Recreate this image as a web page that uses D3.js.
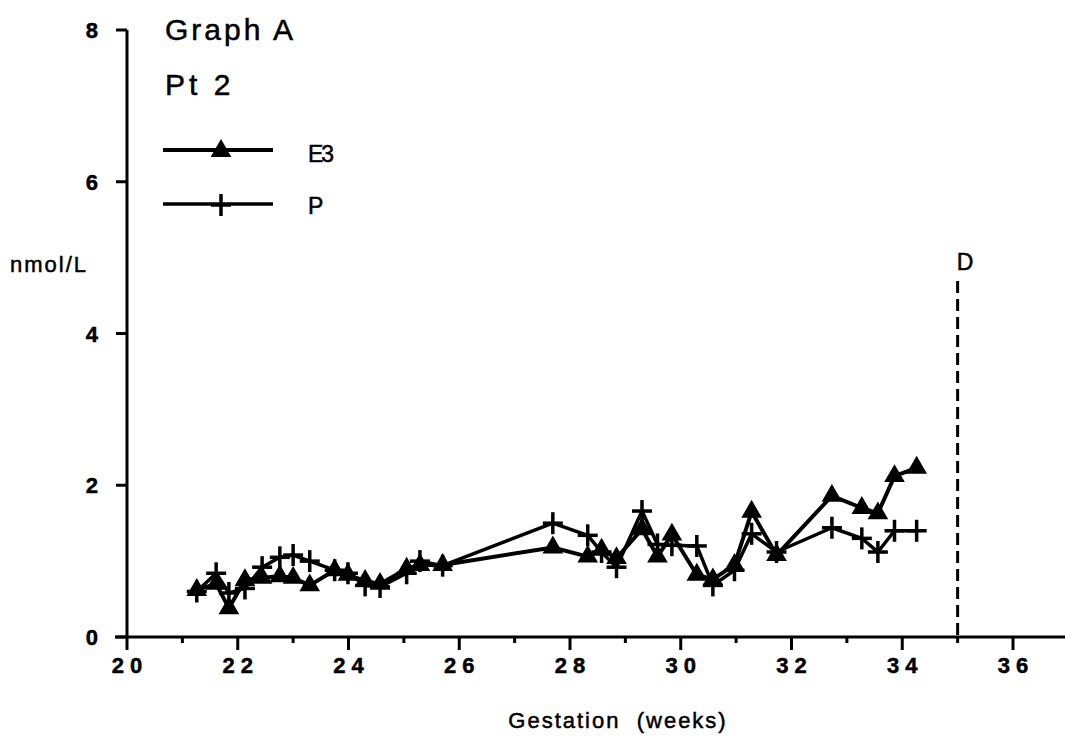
<!DOCTYPE html>
<html><head><meta charset="utf-8">
<script src="https://cdn.jsdelivr.net/npm/d3@7"></script>
<style>body{margin:0;background:#fff}svg{display:block}text{font-family:"Liberation Sans",Arial,sans-serif;fill:#000;stroke:#000;stroke-width:0.5px}</style>
</head><body><svg id="c" width="1065" height="741"></svg>
<script>
const weeks = [21.26,21.61,21.84,22.13,22.44,22.76,23.0,23.3,23.75,23.99,24.3,24.57,25.05,25.29,25.7,27.69,28.32,28.57,28.84,29.3,29.58,29.84,30.29,30.58,30.97,31.28,31.73,32.73,33.27,33.56,33.86,34.26];
const e3 = [0.62,0.70,0.38,0.75,0.78,0.80,0.78,0.68,0.88,0.82,0.74,0.70,0.90,0.95,0.95,1.18,1.06,1.15,1.04,1.42,1.06,1.35,0.82,0.76,0.95,1.65,1.08,1.86,1.70,1.63,2.12,2.23];
const p  = [0.60,0.84,0.58,0.64,0.92,1.05,1.08,1.00,0.88,0.84,0.68,0.66,0.84,1.00,0.94,1.50,1.34,1.12,0.92,1.66,1.22,1.21,1.20,0.68,0.88,1.36,1.12,1.44,1.30,1.12,1.40,1.40];
const xTicks = [20,22,24,26,28,30,32,34,36];
const xMinor = [21,23,25,27,29,31,33,35];
const yTicks = [0,2,4,6,8];
const deliveryWeek = 35;

const svg = d3.select("#c");
const x = d3.scaleLinear().domain([20,36]).range([127,1013]);
const y = d3.scaleLinear().domain([0,8]).range([637,30]);

// y axis
svg.append("line").attr("x1",x(20)).attr("x2",x(20)).attr("y1",y(8)).attr("y2",y(0)).attr("stroke","#000").attr("stroke-width",3);
yTicks.forEach(t=>{
  svg.append("line").attr("x1",x(20)-11).attr("x2",x(20)).attr("y1",y(t)).attr("y2",y(t)).attr("stroke","#000").attr("stroke-width",3);
  svg.append("text").attr("x",98).attr("y",y(t)+8).attr("text-anchor","end").attr("font-size",22).attr("font-weight","bold").text(t);
});
// x axis
svg.append("line").attr("x1",x(20)-12).attr("x2",1065).attr("y1",y(0)).attr("y2",y(0)).attr("stroke","#000").attr("stroke-width",3);
xTicks.forEach(t=>{
  svg.append("line").attr("x1",x(t)).attr("x2",x(t)).attr("y1",y(0)).attr("y2",y(0)+13).attr("stroke","#000").attr("stroke-width",3);
  svg.append("text").attr("x",x(t)+3).attr("y",673).attr("text-anchor","middle").attr("font-size",22).attr("font-weight","bold").attr("letter-spacing","6px").text(t);
});
xMinor.forEach(t=>{
  svg.append("line").attr("x1",x(t)).attr("x2",x(t)).attr("y1",y(0)).attr("y2",y(0)+6).attr("stroke","#000").attr("stroke-width",3);
});
svg.append("text").attr("x",618).attr("y",728).attr("text-anchor","middle").attr("font-size",22).attr("letter-spacing","2px").attr("xml:space","preserve").text("Gestation  (weeks)");
svg.append("text").attr("x",10).attr("y",272).attr("font-size",22).attr("letter-spacing","2px").text("nmol/L");

// delivery line
svg.append("line").attr("x1",x(deliveryWeek)).attr("x2",x(deliveryWeek)).attr("y1",281).attr("y2",y(0)).attr("stroke","#000").attr("stroke-width",3).attr("stroke-dasharray","12,6");
svg.append("text").attr("x",x(deliveryWeek)-1).attr("y",270).attr("font-size",23).text("D");

// titles
svg.append("text").attr("x",165).attr("y",40).attr("font-size",30).attr("letter-spacing","3px").text("Graph A");
svg.append("text").attr("x",165).attr("y",95).attr("font-size",30).attr("letter-spacing","4px").text("Pt 2");

const line = d3.line().x(d=>x(d[0])).y(d=>y(d[1]));
const dE = weeks.map((w,i)=>[w,e3[i]]);
const dP = weeks.map((w,i)=>[w,p[i]]);
svg.append("path").attr("d",line(dP)).attr("fill","none").attr("stroke","#000").attr("stroke-width",3.5).attr("stroke-linejoin","round");
svg.append("path").attr("d",line(dE)).attr("fill","none").attr("stroke","#000").attr("stroke-width",4).attr("stroke-linejoin","round");

const tri = d3.symbol().type(d3.symbolTriangle).size(185);
function drawTri(cx,cy){ svg.append("path").attr("d",tri()).attr("transform",`translate(${cx},${cy})`).attr("fill","#000"); }
function drawCross(cx,cy){
  svg.append("line").attr("x1",cx-10).attr("x2",cx+10).attr("y1",cy).attr("y2",cy).attr("stroke","#000").attr("stroke-width",3.5);
  svg.append("line").attr("x1",cx).attr("x2",cx).attr("y1",cy-11).attr("y2",cy+11).attr("stroke","#000").attr("stroke-width",3.5);
}
dP.forEach(d=>drawCross(x(d[0]),y(d[1])));
dE.forEach(d=>drawTri(x(d[0]),y(d[1])));

// legend
svg.append("line").attr("x1",163).attr("x2",273).attr("y1",150).attr("y2",150).attr("stroke","#000").attr("stroke-width",4);
drawTri(221,151);
svg.append("text").attr("x",308).attr("y",162).attr("font-size",23).attr("letter-spacing","-2px").text("E3");
svg.append("line").attr("x1",163).attr("x2",273).attr("y1",204).attr("y2",204).attr("stroke","#000").attr("stroke-width",3.5);
drawCross(221,205);
svg.append("text").attr("x",308).attr("y",214).attr("font-size",23).text("P");
</script></body></html>
